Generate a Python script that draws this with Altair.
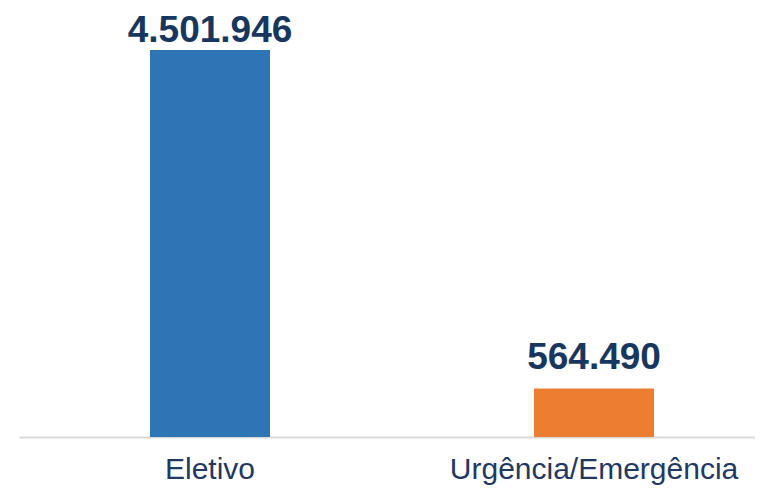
import altair as alt
import pandas as pd

categories = ["Eletivo", "Urgência/Emergência"]
values = [4501946, 564490]
labels = ["4.501.946", "564.490"]
colors = ["#2E75B6", "#ED7D31"]

df = pd.DataFrame({"cat": categories, "val": values, "label": labels})

x = alt.X("cat:N", sort=categories, title=None,
          scale=alt.Scale(paddingInner=0.6875, paddingOuter=0.302, align=0.5647),
          axis=alt.Axis(labelAngle=0, labelFont="Liberation Sans", labelFontSize=30,
                        labelColor="#1F3864", labelBaseline="alphabetic", labelPadding=41,
                        labelLimit=0, ticks=False, tickSize=0,
                        domainColor="#D9D9D9", domainWidth=2, grid=False))
y = alt.Y("val:Q", title=None, scale=alt.Scale(domain=[0, 4990000], nice=False, zero=True),
          axis=None)

bars = alt.Chart(df).mark_bar().encode(
    x=x, y=y,
    color=alt.Color("cat:N", scale=alt.Scale(domain=categories, range=colors), legend=None),
)

txt_style = dict(font="Liberation Sans", fontSize=37, fontWeight="bold", color="#17375E",
                 baseline="alphabetic", align="center")

t1 = alt.Chart(df).transform_filter(alt.datum.cat == categories[0]).mark_text(dy=-8, **txt_style).encode(
    x=x, y=y, text="label:N")
t2 = alt.Chart(df).transform_filter(alt.datum.cat == categories[1]).mark_text(dy=-19, **txt_style).encode(
    x=x, y=y, text="label:N")

chart = alt.layer(bars, t1, t2).properties(
    width=736, height=429,
    background="white",
    autosize=alt.AutoSizeParams(type="none"),
    padding={"left": 11, "top": 0, "right": 0, "bottom": 50},
).configure_view(strokeWidth=0, stroke=None)

chart.save("out.html", embed_options={"renderer": "svg", "actions": False})
